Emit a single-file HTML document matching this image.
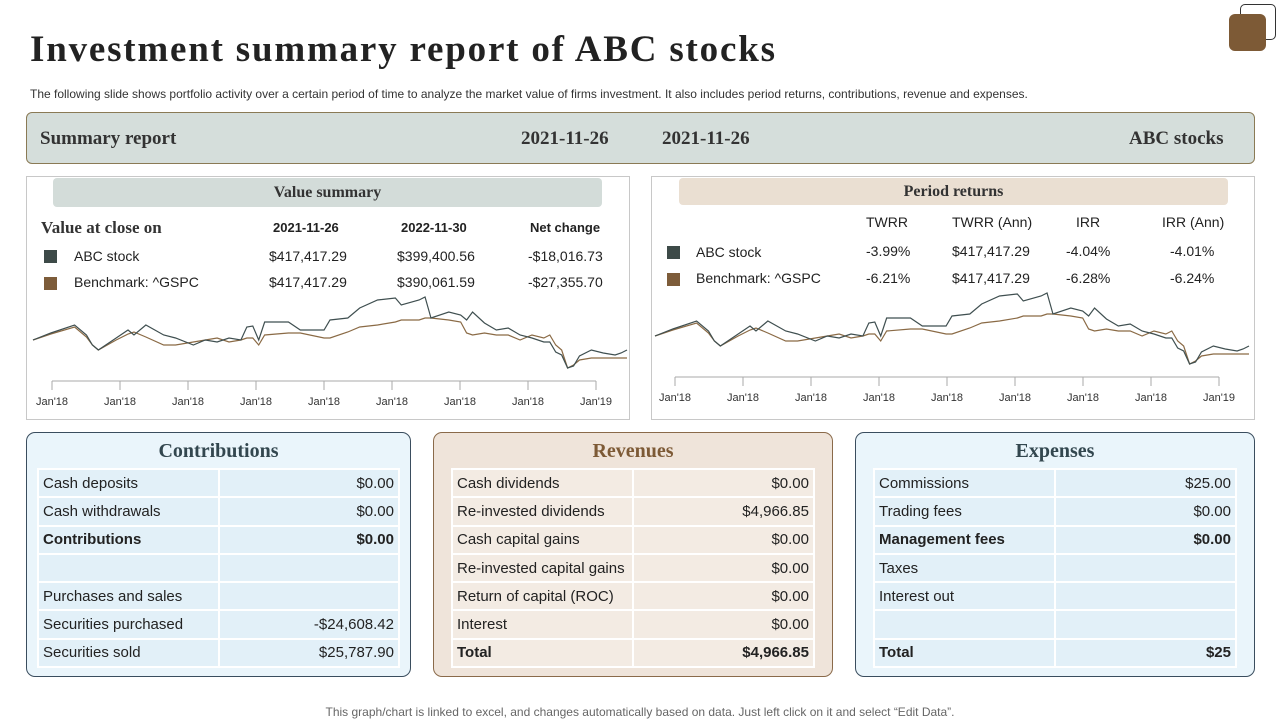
<!DOCTYPE html>
<html><head><meta charset="utf-8">
<style>
*{margin:0;padding:0;box-sizing:border-box}
body{width:1280px;height:720px;background:#fff;position:relative;overflow:hidden;font-family:"Liberation Sans",sans-serif;color:#222}
.abs{position:absolute}
.serif{font-family:"Liberation Serif",serif;font-weight:bold}
.card{position:absolute;border-radius:9px;border:1px solid}
.card h3{font-family:"Liberation Serif",serif;font-size:20px;text-align:center;margin-top:7px;font-weight:bold}
table{position:absolute;left:10px;top:35px;border-collapse:collapse;font-size:15px}
td{height:28.3px;border:2px solid #fff;padding:0 4px}
td.v{text-align:right}
</style></head><body>
<div class="abs serif" style="left:30px;top:28px;font-size:37px;letter-spacing:1.8px;color:#222;white-space:nowrap">Investment summary report of ABC stocks</div>
<div class="abs" style="left:30px;top:87px;font-size:12px;color:#333;white-space:nowrap">The following slide shows portfolio activity over a certain period of time to analyze the market value of firms investment. It also includes period returns, contributions, revenue and expenses.</div>
<div class="abs" style="left:1240px;top:4px;width:36px;height:36px;border:1.5px solid #333;border-radius:5px"></div>
<div class="abs" style="left:1229px;top:14px;width:37px;height:37px;background:#7d5a36;border-radius:6px"></div>

<div class="abs" style="left:26px;top:112px;width:1229px;height:52px;background:#d5dedb;border:1px solid #8a7a55;border-radius:6px">
<span class="abs serif" style="left:13px;top:15px;font-size:19px;color:#333">Summary report</span>
<span class="abs serif" style="left:494px;top:15px;font-size:19px;color:#333">2021-11-26</span>
<span class="abs serif" style="left:635px;top:15px;font-size:19px;color:#333">2021-11-26</span>
<span class="abs serif" style="left:1102px;top:15px;font-size:19px;color:#333">ABC stocks</span>
</div>

<div class="abs" style="left:26px;top:176px;width:604px;height:244px;border:1px solid #c8c8c8"></div>
<div class="abs serif" style="left:53px;top:178px;width:549px;height:29px;background:#d3dcd9;border-radius:4px;text-align:center;font-size:16px;line-height:29px;color:#333">Value summary</div>
<div class="abs" style="font-size:14px;left:0;top:0">
<span class="abs serif" style="left:41px;top:218px;font-size:17px;white-space:nowrap;color:#333">Value at close on</span>
<b class="abs" style="left:273px;top:220px;white-space:nowrap;font-size:13px">2021-11-26</b>
<b class="abs" style="left:401px;top:220px;white-space:nowrap;font-size:13px">2022-11-30</b>
<b class="abs" style="left:530px;top:220px;white-space:nowrap;font-size:13px">Net change</b>
<span class="abs" style="left:44px;top:250px;width:13px;height:13px;background:#3d4a48"></span>
<span class="abs" style="left:74px;top:248px;white-space:nowrap">ABC stock</span>
<span class="abs" style="left:269px;top:248px">$417,417.29</span>
<span class="abs" style="left:397px;top:248px">$399,400.56</span>
<span class="abs" style="left:528px;top:248px">-$18,016.73</span>
<span class="abs" style="left:44px;top:277px;width:13px;height:13px;background:#7d5c3a"></span>
<span class="abs" style="left:74px;top:274px;white-space:nowrap">Benchmark: ^GSPC</span>
<span class="abs" style="left:269px;top:274px">$417,417.29</span>
<span class="abs" style="left:397px;top:274px">$390,061.59</span>
<span class="abs" style="left:528px;top:274px">-$27,355.70</span>
</div>

<div class="abs" style="left:651px;top:176px;width:604px;height:244px;border:1px solid #c8c8c8"></div>
<div class="abs serif" style="left:679px;top:178px;width:549px;height:27px;background:#eadfd2;border-radius:4px;text-align:center;font-size:16px;line-height:27px;color:#333">Period returns</div>
<div class="abs" style="font-size:14px;left:0;top:0">
<span class="abs" style="left:866px;top:214px">TWRR</span>
<span class="abs" style="left:952px;top:214px;white-space:nowrap">TWRR (Ann)</span>
<span class="abs" style="left:1076px;top:214px">IRR</span>
<span class="abs" style="left:1162px;top:214px;white-space:nowrap">IRR (Ann)</span>
<span class="abs" style="left:667px;top:246px;width:13px;height:13px;background:#3d4a48"></span>
<span class="abs" style="left:696px;top:244px;white-space:nowrap">ABC stock</span>
<span class="abs" style="left:866px;top:243px">-3.99%</span>
<span class="abs" style="left:952px;top:243px">$417,417.29</span>
<span class="abs" style="left:1066px;top:243px">-4.04%</span>
<span class="abs" style="left:1170px;top:243px">-4.01%</span>
<span class="abs" style="left:667px;top:273px;width:13px;height:13px;background:#7d5c3a"></span>
<span class="abs" style="left:696px;top:270px;white-space:nowrap">Benchmark: ^GSPC</span>
<span class="abs" style="left:866px;top:270px">-6.21%</span>
<span class="abs" style="left:952px;top:270px">$417,417.29</span>
<span class="abs" style="left:1066px;top:270px">-6.28%</span>
<span class="abs" style="left:1170px;top:270px">-6.24%</span>
</div>

<svg class="abs" style="left:0;top:0" width="1280" height="720" id="charts"></svg>

<div class="card" style="left:26px;top:432px;width:385px;height:245px;background:#eaf5fb;border-color:#3a4d5e">
<h3 style="color:#33474f">Contributions</h3>
<table style="width:363px;background:#e2f0f8"><col style="width:181px">
<tr><td>Cash deposits</td><td class="v">$0.00</td></tr>
<tr><td>Cash withdrawals</td><td class="v">$0.00</td></tr>
<tr><td><b>Contributions</b></td><td class="v"><b>$0.00</b></td></tr>
<tr><td></td><td></td></tr>
<tr><td>Purchases and sales</td><td></td></tr>
<tr><td>Securities purchased</td><td class="v">-$24,608.42</td></tr>
<tr><td>Securities sold</td><td class="v">$25,787.90</td></tr>
</table></div>

<div class="card" style="left:433px;top:432px;width:400px;height:245px;background:#efe4da;border-color:#8a6a4a">
<h3 style="color:#7d5a36">Revenues</h3>
<table style="left:17px;width:364px;background:#f3ebe3"><col style="width:181px">
<tr><td>Cash dividends</td><td class="v">$0.00</td></tr>
<tr><td>Re-invested dividends</td><td class="v">$4,966.85</td></tr>
<tr><td>Cash capital gains</td><td class="v">$0.00</td></tr>
<tr><td>Re-invested capital gains</td><td class="v">$0.00</td></tr>
<tr><td>Return of capital (ROC)</td><td class="v">$0.00</td></tr>
<tr><td>Interest</td><td class="v">$0.00</td></tr>
<tr><td><b>Total</b></td><td class="v"><b>$4,966.85</b></td></tr>
</table></div>

<div class="card" style="left:855px;top:432px;width:400px;height:245px;background:#eaf5fb;border-color:#3a4d5e">
<h3 style="color:#33474f">Expenses</h3>
<table style="left:17px;width:364px;background:#e2f0f8"><col style="width:181px">
<tr><td>Commissions</td><td class="v">$25.00</td></tr>
<tr><td>Trading fees</td><td class="v">$0.00</td></tr>
<tr><td><b>Management fees</b></td><td class="v"><b>$0.00</b></td></tr>
<tr><td>Taxes</td><td></td></tr>
<tr><td>Interest out</td><td></td></tr>
<tr><td></td><td></td></tr>
<tr><td><b>Total</b></td><td class="v"><b>$25</b></td></tr>
</table></div>

<div class="abs" style="left:0;width:1280px;top:705px;text-align:center;font-size:12px;color:#666">This graph/chart is linked to excel, and changes automatically based on data. Just left click on it and select “Edit Data”.</div>

<script>
const days=[0,3,7,9,10,11,14,16,17,19,22,24,27,29,31,33,35,36,37,38,39,43,45,49,50,53,55,58,61,62,65,66,67,70,72,73,74,76,78,80,82,84,86,87,88,89,90,91,92,94,96,98,99,100];
const abcValues=[30,37,45,35,25,20,32,40,35,45,35,32,25,30,28,32,30,43,44,30,48,48,40,40,50,52,62,70,72,65,70,73,52,58,55,50,58,47,40,42,35,32,28,28,18,15,2,4,14,20,17,15,17,20];
const benchValues=[30,36,43,33,25,20,30,36,38,33,25,25,28,30,32,28,30,32,32,25,35,37,37,32,32,38,43,45,48,50,50,52,52,50,48,37,35,37,35,35,30,35,32,35,25,20,2,5,10,12,12,12,12,12];
const tickLabels=["Jan'18","Jan'18","Jan'18","Jan'18","Jan'18","Jan'18","Jan'18","Jan'18","Jan'19"];
const svg=document.getElementById('charts');
const NS='http://www.w3.org/2000/svg';
function draw(cx0,cx1,yTop,yBot,axisY,t0,t1,lblY,nm){
  const xs=d=>cx0+(cx1-cx0)*d/100;
  const ys=v=>yBot-(yBot-yTop)*v/80;
  const ax=document.createElementNS(NS,'line');
  
  
  ax.setAttribute('x1',t0);ax.setAttribute('x2',t1);ax.setAttribute('y1',axisY);ax.setAttribute('y2',axisY);ax.setAttribute('stroke','#aaa');
  svg.appendChild(ax);
  tickLabels.forEach((l,i)=>{
    const x=t0+(t1-t0)*i/(tickLabels.length-1);
    const tk=document.createElementNS(NS,'line');
    
    
    tk.setAttribute('x1',x);tk.setAttribute('x2',x);tk.setAttribute('y1',axisY);tk.setAttribute('y2',axisY+9);tk.setAttribute('stroke','#aaa');
    svg.appendChild(tk);
    const tx=document.createElementNS(NS,'text');
    
    
    tx.setAttribute('x',x);tx.setAttribute('y',lblY);tx.setAttribute('text-anchor','middle');tx.setAttribute('font-size','11');tx.setAttribute('fill','#333');tx.setAttribute('font-family','Liberation Sans, sans-serif');
    tx.textContent=l;svg.appendChild(tx);
  });
  [[benchValues,'#8a6a45','benchmark-line'],[abcValues,'#3f4f50','abc-line']].forEach(([vals,c,n])=>{
    const p=document.createElementNS(NS,'polyline');
    
    
    p.setAttribute('points',days.map((d,i)=>xs(d)+','+ys(vals[i])).join(' '));
    p.setAttribute('fill','none');p.setAttribute('stroke',c);p.setAttribute('stroke-width','1.2');
    svg.appendChild(p);
  });
}
draw(33,627,290,370,381,52,596,405,'value-chart');
draw(655,1249,286,366,377,675,1219,401,'returns-chart');
</script>
</body></html>
